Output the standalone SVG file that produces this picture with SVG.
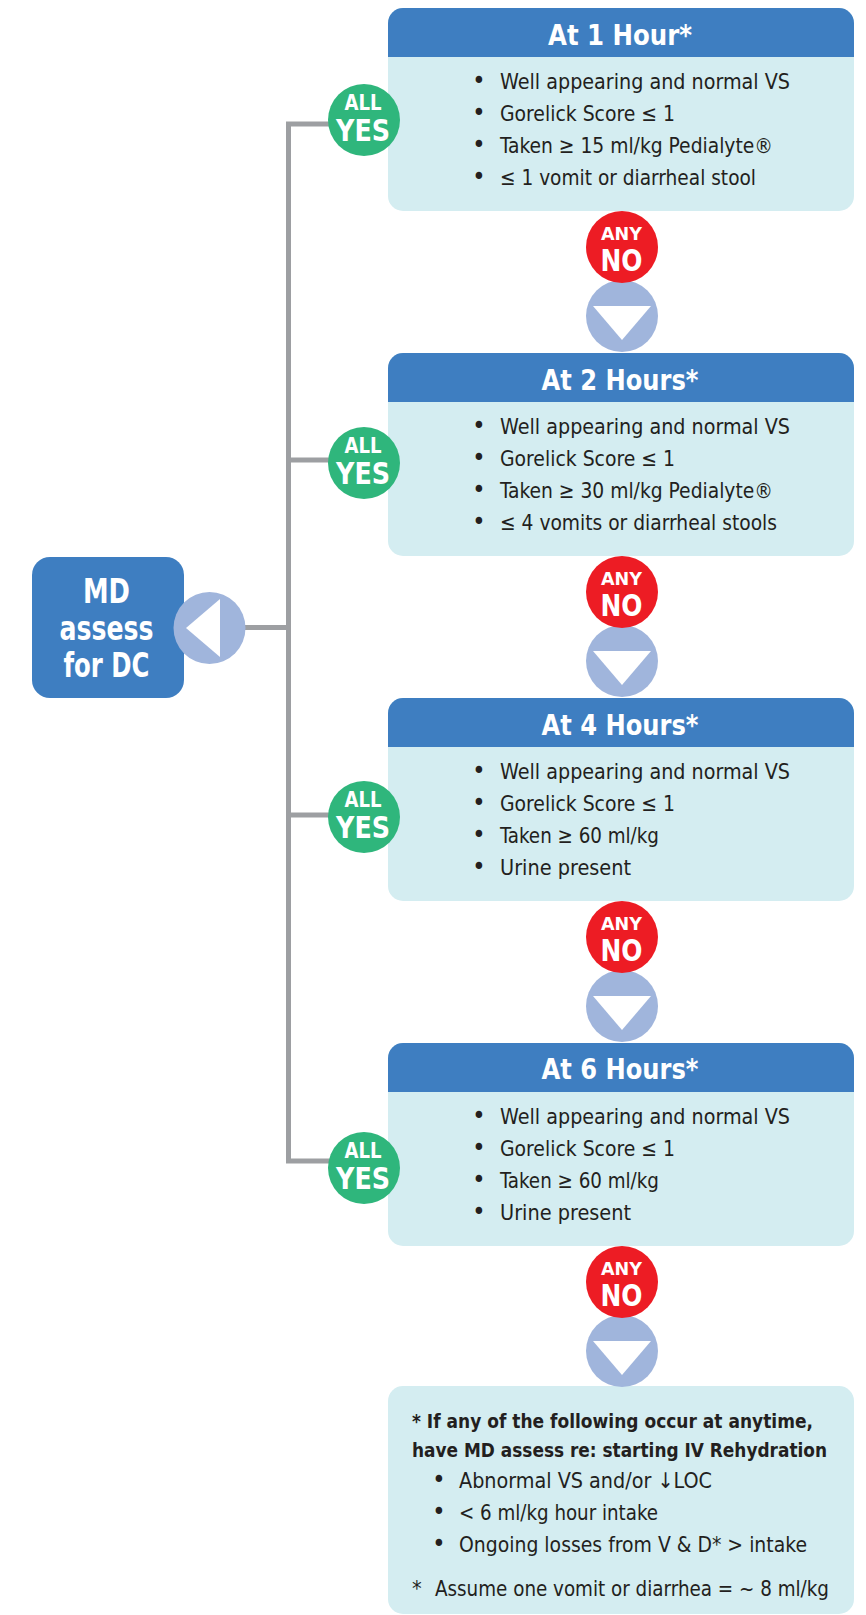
<svg xmlns="http://www.w3.org/2000/svg" width="866" height="1615" viewBox="0 0 866 1615">
<style>
.body{fill:#d4edf1}
.hdr{fill:#3e7ec1}
.f{font-family:"DejaVu Sans Condensed","DejaVu Sans","Liberation Sans",sans-serif;font-stretch:condensed}
.title{font-weight:bold;font-size:28px;fill:#fff;text-anchor:middle}
.li{font-size:22px;fill:#231f20}
.li2{font-size:21.5px;fill:#231f20}
.b2{font-size:20px;font-weight:bold;fill:#231f20}
.dot{text-anchor:middle;font-size:25px}
.yes{fill:#2fb67c}
.no{fill:#ed1c24}
.arr{fill:#a0b5dc}
.tri{fill:#fff}
.lbl{font-weight:bold;fill:#fff;text-anchor:middle}
.conn{stroke:#9d9fa2;stroke-width:5;fill:none;stroke-linejoin:miter}
</style>
<g id="connectors">
<path class="conn" d="M340,124H288.5V1161H340"/>
<path class="conn" d="M288.5,460H340"/>
<path class="conn" d="M288.5,815H340"/>
<path class="conn" d="M235,627.5H288.5"/>
</g>
<g id="box-1h" class="f">
<rect class="body" x="388" y="8" width="466" height="203" rx="15"/>
<path class="hdr" d="M388,57V23a15,15 0 0 1 15,-15H839a15,15 0 0 1 15,15V57Z"/>
<text class="title" x="620" y="45" textLength="144" lengthAdjust="spacingAndGlyphs">At 1 Hour*</text>
<g class="li">
<text class="dot" x="479" y="89">•</text><text x="500" y="89" textLength="290" lengthAdjust="spacingAndGlyphs">Well appearing and normal VS</text>
<text class="dot" x="479" y="121">•</text><text x="500" y="121" textLength="175" lengthAdjust="spacingAndGlyphs">Gorelick Score ≤ 1</text>
<text class="dot" x="479" y="153">•</text><text x="500" y="153" textLength="273" lengthAdjust="spacingAndGlyphs">Taken ≥ 15 ml/kg Pedialyte®</text>
<text class="dot" x="479" y="185">•</text><text x="500" y="185" textLength="256" lengthAdjust="spacingAndGlyphs">≤ 1 vomit or diarrheal stool</text>
</g>
</g>
<g id="box-2h" class="f">
<rect class="body" x="388" y="353" width="466" height="203" rx="15"/>
<path class="hdr" d="M388,402V368a15,15 0 0 1 15,-15H839a15,15 0 0 1 15,15V402Z"/>
<text class="title" x="620" y="390" textLength="157" lengthAdjust="spacingAndGlyphs">At 2 Hours*</text>
<g class="li">
<text class="dot" x="479" y="434">•</text><text x="500" y="434" textLength="290" lengthAdjust="spacingAndGlyphs">Well appearing and normal VS</text>
<text class="dot" x="479" y="466">•</text><text x="500" y="466" textLength="175" lengthAdjust="spacingAndGlyphs">Gorelick Score ≤ 1</text>
<text class="dot" x="479" y="498">•</text><text x="500" y="498" textLength="273" lengthAdjust="spacingAndGlyphs">Taken ≥ 30 ml/kg Pedialyte®</text>
<text class="dot" x="479" y="530">•</text><text x="500" y="530" textLength="277" lengthAdjust="spacingAndGlyphs">≤ 4 vomits or diarrheal stools</text>
</g>
</g>
<g id="box-4h" class="f">
<rect class="body" x="388" y="698" width="466" height="203" rx="15"/>
<path class="hdr" d="M388,747V713a15,15 0 0 1 15,-15H839a15,15 0 0 1 15,15V747Z"/>
<text class="title" x="620" y="735" textLength="157" lengthAdjust="spacingAndGlyphs">At 4 Hours*</text>
<g class="li">
<text class="dot" x="479" y="779">•</text><text x="500" y="779" textLength="290" lengthAdjust="spacingAndGlyphs">Well appearing and normal VS</text>
<text class="dot" x="479" y="811">•</text><text x="500" y="811" textLength="175" lengthAdjust="spacingAndGlyphs">Gorelick Score ≤ 1</text>
<text class="dot" x="479" y="843">•</text><text x="500" y="843" textLength="159" lengthAdjust="spacingAndGlyphs">Taken ≥ 60 ml/kg</text>
<text class="dot" x="479" y="875">•</text><text x="500" y="875" textLength="131" lengthAdjust="spacingAndGlyphs">Urine present</text>
</g>
</g>
<g id="box-6h" class="f">
<rect class="body" x="388" y="1043" width="466" height="203" rx="15"/>
<path class="hdr" d="M388,1092V1058a15,15 0 0 1 15,-15H839a15,15 0 0 1 15,15V1092Z"/>
<text class="title" x="620" y="1079" textLength="157" lengthAdjust="spacingAndGlyphs">At 6 Hours*</text>
<g class="li">
<text class="dot" x="479" y="1124">•</text><text x="500" y="1124" textLength="290" lengthAdjust="spacingAndGlyphs">Well appearing and normal VS</text>
<text class="dot" x="479" y="1156">•</text><text x="500" y="1156" textLength="175" lengthAdjust="spacingAndGlyphs">Gorelick Score ≤ 1</text>
<text class="dot" x="479" y="1188">•</text><text x="500" y="1188" textLength="159" lengthAdjust="spacingAndGlyphs">Taken ≥ 60 ml/kg</text>
<text class="dot" x="479" y="1220">•</text><text x="500" y="1220" textLength="131" lengthAdjust="spacingAndGlyphs">Urine present</text>
</g>
</g>
<g id="note" class="f">
<rect class="body" x="388" y="1386" width="466" height="228" rx="15"/>
<text class="b2" x="412" y="1428" textLength="401" lengthAdjust="spacingAndGlyphs">* If any of the following occur at anytime,</text>
<text class="b2" x="412" y="1457" textLength="415" lengthAdjust="spacingAndGlyphs">have MD assess re: starting IV Rehydration</text>
<g class="li2">
<text class="dot" x="439" y="1488">•</text><text x="459" y="1488" textLength="253" lengthAdjust="spacingAndGlyphs">Abnormal VS and/or ↓LOC</text>
<text class="dot" x="439" y="1520">•</text><text x="459" y="1520" textLength="199" lengthAdjust="spacingAndGlyphs">&lt; 6 ml/kg hour intake</text>
<text class="dot" x="439" y="1552">•</text><text x="459" y="1552" textLength="348" lengthAdjust="spacingAndGlyphs">Ongoing losses from V &amp; D* &gt; intake</text>
<text x="412" y="1596">*</text><text x="435" y="1596" textLength="394" lengthAdjust="spacingAndGlyphs">Assume one vomit or diarrhea = ~ 8 ml/kg</text>
</g>
</g>
<g id="md-assess" class="f">
<rect class="hdr" x="32" y="557" width="152" height="141" rx="18"/>
<text class="lbl" x="106.5" y="603" font-size="33" textLength="47" lengthAdjust="spacingAndGlyphs">MD</text>
<text class="lbl" x="106.5" y="640" font-size="33" textLength="94" lengthAdjust="spacingAndGlyphs">assess</text>
<text class="lbl" x="106.5" y="677" font-size="33" textLength="86" lengthAdjust="spacingAndGlyphs">for DC</text>
<circle class="arr" cx="209.5" cy="628" r="36"/>
<polygon class="tri" points="186,628 220,599 220,657"/>
</g>
<g id="yes-1h" class="f">
<circle class="yes" cx="364" cy="120" r="36"/>
<text class="lbl" x="363" y="110" font-size="21" textLength="37" lengthAdjust="spacingAndGlyphs">ALL</text>
<text class="lbl" x="363" y="141" font-size="30" textLength="54" lengthAdjust="spacingAndGlyphs">YES</text>
</g>
<g id="yes-2h" class="f">
<circle class="yes" cx="364" cy="463" r="36"/>
<text class="lbl" x="363" y="453" font-size="21" textLength="37" lengthAdjust="spacingAndGlyphs">ALL</text>
<text class="lbl" x="363" y="484" font-size="30" textLength="54" lengthAdjust="spacingAndGlyphs">YES</text>
</g>
<g id="yes-4h" class="f">
<circle class="yes" cx="364" cy="817" r="36"/>
<text class="lbl" x="363" y="807" font-size="21" textLength="37" lengthAdjust="spacingAndGlyphs">ALL</text>
<text class="lbl" x="363" y="838" font-size="30" textLength="54" lengthAdjust="spacingAndGlyphs">YES</text>
</g>
<g id="yes-6h" class="f">
<circle class="yes" cx="364" cy="1168" r="36"/>
<text class="lbl" x="363" y="1158" font-size="21" textLength="37" lengthAdjust="spacingAndGlyphs">ALL</text>
<text class="lbl" x="363" y="1189" font-size="30" textLength="54" lengthAdjust="spacingAndGlyphs">YES</text>
</g>
<g id="no-1h" class="f">
<circle class="arr" cx="622" cy="316" r="36"/>
<polygon class="tri" points="593,306 651,306 622,340"/>
<circle class="no" cx="622" cy="247" r="36"/>
<text class="lbl" x="621.5" y="240" font-size="18" textLength="41" lengthAdjust="spacingAndGlyphs">ANY</text>
<text class="lbl" x="621.5" y="271" font-size="30" textLength="42" lengthAdjust="spacingAndGlyphs">NO</text>
</g>
<g id="no-2h" class="f">
<circle class="arr" cx="622" cy="661" r="36"/>
<polygon class="tri" points="593,651 651,651 622,685"/>
<circle class="no" cx="622" cy="592" r="36"/>
<text class="lbl" x="621.5" y="585" font-size="18" textLength="41" lengthAdjust="spacingAndGlyphs">ANY</text>
<text class="lbl" x="621.5" y="616" font-size="30" textLength="42" lengthAdjust="spacingAndGlyphs">NO</text>
</g>
<g id="no-4h" class="f">
<circle class="arr" cx="622" cy="1006" r="36"/>
<polygon class="tri" points="593,996 651,996 622,1030"/>
<circle class="no" cx="622" cy="937" r="36"/>
<text class="lbl" x="621.5" y="930" font-size="18" textLength="41" lengthAdjust="spacingAndGlyphs">ANY</text>
<text class="lbl" x="621.5" y="961" font-size="30" textLength="42" lengthAdjust="spacingAndGlyphs">NO</text>
</g>
<g id="no-6h" class="f">
<circle class="arr" cx="622" cy="1351" r="36"/>
<polygon class="tri" points="593,1341 651,1341 622,1375"/>
<circle class="no" cx="622" cy="1282" r="36"/>
<text class="lbl" x="621.5" y="1275" font-size="18" textLength="41" lengthAdjust="spacingAndGlyphs">ANY</text>
<text class="lbl" x="621.5" y="1306" font-size="30" textLength="42" lengthAdjust="spacingAndGlyphs">NO</text>
</g>
</svg>
